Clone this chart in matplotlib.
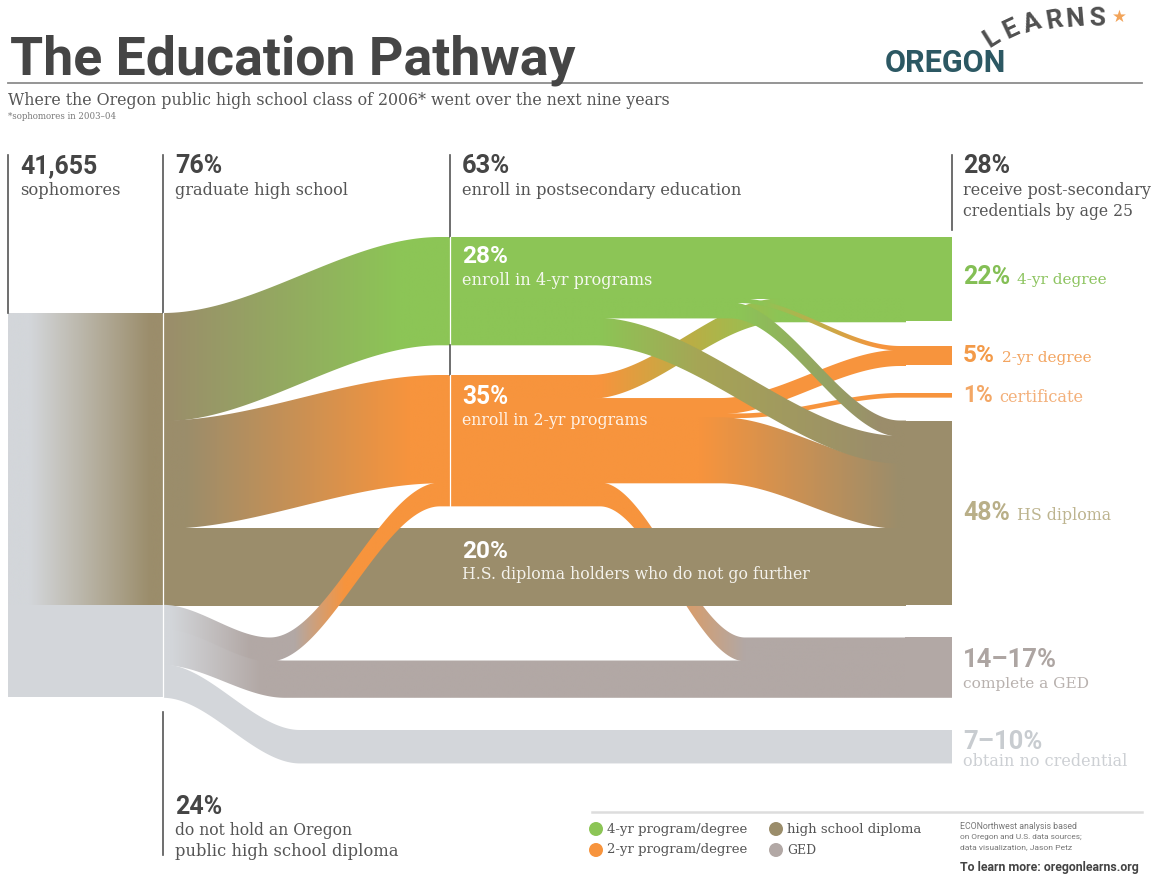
import numpy as np
import matplotlib.pyplot as plt
from matplotlib.patches import Polygon, Rectangle, Circle
from matplotlib.colors import to_rgb

# ---- data: percent of the 41,655 sophomores ----
cohort = '41,655'
grad_share = 76
nongrad_share = 24
grad_split = [28, 28, 20]          # 4-yr, 2-yr, H.S. only
nongrad_split = [6, 9.5, 8.5]      # GED then 2-yr, GED only, no credential
enroll = [28, 34]                  # middle nodes: 4-yr, 2-yr
from_4yr = [16, 1, 4, 7]           # 4-yr deg, 2-yr deg, HS diploma (two strands)
from_2yr = [6, 4, 1, 17, 6]        # 4-yr deg, 2-yr deg, certificate, HS diploma, GED
outcomes = [22, 5, 1, 48, 15.5, 8.5]
outcome_pct = ['22%', '5%', '1%', '48%', '14\u201317%', '7\u201310%']
outcome_txt = ['4-yr degree', '2-yr degree', 'certificate', 'HS diploma',
               'complete a GED', 'obtain no credential']
legend_names = ['4-yr program/degree', '2-yr program/degree', 'high school diploma', 'GED']

GREEN = '#8CC556'
ORANGE = '#F7943D'
BROWN = '#9B8D6B'
MAUVE = '#B2A8A5'
LGRAY = '#D3D6DA'
DARK = '#454545'

W, H = 1157, 875
fig = plt.figure(figsize=(W / 100, H / 100), dpi=100)
ax = fig.add_axes([0, 0, 1, 1])
ax.set_xlim(0, W)
ax.set_ylim(H, 0)
PX = 3.84            # pixels per percentage point
X0, X1, XM, XR, XE = 8, 163, 450, 905, 952
TOP_L, TOP_4, TOP_2 = 313, 237, 375


def fill(verts, stops, z):
    patch = Polygon(verts, closed=True, facecolor='none', edgecolor='none', zorder=z)
    ax.add_patch(patch)
    if isinstance(stops, str):
        patch.set_facecolor(stops)
        return
    x0, x1 = verts[:, 0].min(), verts[:, 0].max()
    y0, y1 = verts[:, 1].min(), verts[:, 1].max()
    xs = np.linspace(x0, x1, 400)
    sx = [s[0] for s in stops]
    cols = np.array([to_rgb(s[1]) for s in stops])
    img = np.stack([np.interp(xs, sx, cols[:, k]) for k in range(3)], axis=-1)[None]
    im = ax.imshow(img, extent=(x0, x1, y1, y0), aspect='auto', zorder=z,
                   interpolation='bilinear')
    im.set_clip_path(patch)


def flow(keys, v, stops, z=2):
    xs_all, ys_all = [], []
    for (xa, ya), (xb, yb) in zip(keys[:-1], keys[1:]):
        xs = np.linspace(xa, xb, 150)
        t = (xs - xa) / (xb - xa)
        xs_all.append(xs)
        ys_all.append(ya + (yb - ya) * t * t * (3 - 2 * t))
    xs = np.concatenate(xs_all)
    top = np.concatenate(ys_all)
    # small overlap so neighbouring bands show no seam
    verts = np.concatenate([np.c_[xs, top], np.c_[xs[::-1], (top + v * PX + 0.8)[::-1]]])
    fill(verts, stops, z)


# ---- left block ----
y_grad = TOP_L + grad_share * PX
y_all = y_grad + nongrad_share * PX
fill(np.array([[X0, TOP_L], [X1 + 1, TOP_L], [X1 + 1, y_grad], [X0, y_grad]]),
     [(30, LGRAY), (150, BROWN)], 2)
fill(np.array([[X0, y_grad], [X1 + 1, y_grad], [X1 + 1, y_all], [X0, y_all]]), LGRAY, 2)

# ---- graduates to the middle stage ----
y = TOP_L
flow([(X1, y), (440, TOP_4), (XM, TOP_4)], grad_split[0], [(165, BROWN), (400, GREEN)])
y += grad_split[0] * PX
flow([(X1, y), (440, TOP_2), (XM, TOP_2)], grad_split[1], [(185, BROWN), (410, ORANGE)])
y += grad_split[1] * PX
y_hs = y
flow([(X1, y_hs), (XR + 1, y_hs)], grad_split[2], BROWN, z=4)

# ---- non-graduates ----
y_2b = TOP_2 + grad_split[1] * PX            # where GED students join 2-yr node
y_ged = y_all - outcomes[4] * PX              # right GED node top
y = y_grad
flow([(X1, y), (270, y_ged), (440, y_2b), (XM, y_2b)], nongrad_split[0],
     [(170, LGRAY), (250, MAUVE), (295, MAUVE), (345, ORANGE)], z=5)
y += nongrad_split[0] * PX
y_gd = y_ged + from_2yr[4] * PX
flow([(X1, y), (285, y_gd), (XE, y_gd)], nongrad_split[1],
     [(170, LGRAY), (260, MAUVE)], z=2)
y += nongrad_split[1] * PX
flow([(X1, y), (300, 730), (XE, 730)], nongrad_split[2], LGRAY, z=2)

# ---- middle stage to outcomes ----
r_tops = [237, 346, 393, y_hs + grad_split[2] * PX - outcomes[3] * PX, y_ged, 730]
r_cols = [GREEN, ORANGE, ORANGE, BROWN, MAUVE, LGRAY]
s4 = np.cumsum([0] + from_4yr[:-1]) * PX + TOP_4
s2 = np.cumsum([0] + from_2yr[:-1]) * PX + TOP_2
t_deg4 = r_tops[0]
t_deg2 = r_tops[1]
t_hs = r_tops[3]
XR1 = XR + 1

flow([(XM, s4[0]), (XR1, s4[0])], from_4yr[0], GREEN)
flow([(XM, s2[0]), (590, s2[0]), (780, t_deg4 + from_4yr[0] * PX), (XR1, t_deg4 + from_4yr[0] * PX)],
     from_2yr[0], [(600, ORANGE), (690, '#BBAE45'), (780, GREEN)], z=3)
flow([(XM, s2[1]), (720, s2[1]), (900, t_deg2 + from_4yr[1] * PX), (XR1, t_deg2 + from_4yr[1] * PX)],
     from_2yr[1], ORANGE, z=2)
flow([(XM, s2[2]), (740, s2[2]), (900, r_tops[2]), (XE, r_tops[2])], from_2yr[2], ORANGE, z=2)
flow([(XM, s2[3]), (720, s2[3]), (900, t_hs + (from_4yr[2] + from_4yr[3]) * PX),
      (XR1, t_hs + (from_4yr[2] + from_4yr[3]) * PX)],
     from_2yr[3], [(700, ORANGE), (900, BROWN)], z=2)
flow([(XM, s2[4]), (600, s2[4]), (745, y_ged), (XE, y_ged)], from_2yr[4],
     [(640, ORANGE), (745, MAUVE)], z=1.5)
flow([(XM, s4[1]), (740, s4[1]), (900, t_deg2), (XR1, t_deg2)], from_4yr[1],
     [(760, GREEN), (880, ORANGE)], z=3)
flow([(XM, s4[2]), (730, s4[2]), (900, t_hs), (XR1, t_hs)], from_4yr[2],
     [(740, GREEN), (880, BROWN)], z=3.2)
flow([(XM, s4[3]), (595, s4[3]), (900, t_hs + from_4yr[2] * PX), (XR1, t_hs + from_4yr[2] * PX)],
     from_4yr[3], [(600, GREEN), (700, '#A6A555'), (880, BROWN)], z=3.1)

for top, v, c in zip(r_tops, outcomes, r_cols):
    ax.add_patch(Rectangle((XR, top), XE - XR, v * PX, facecolor=c, edgecolor='none', zorder=4))

# ---- separator lines ----
lk = dict(color='#555555', lw=1.2, zorder=6)
wk = dict(color='white', lw=0.9, zorder=6)
ax.plot([X0, X0], [155, TOP_L], **lk)
ax.plot([X1, X1], [155, TOP_L], **lk)
ax.plot([X1, X1], [TOP_L, y_all], **wk)
ax.plot([X1, X1], [712, 855], **lk)
ax.plot([XM, XM], [155, TOP_4], **lk)
ax.plot([XM, XM], [TOP_4, TOP_4 + enroll[0] * PX], **wk)
ax.plot([XM, XM], [TOP_4 + enroll[0] * PX, TOP_2], **lk)
ax.plot([XM, XM], [TOP_2, TOP_2 + enroll[1] * PX], **wk)
ax.plot([XE, XE], [155, 230], **lk)

# imshow may have moved the limits: put them back before measuring text
ax.set_xlim(0, W)
ax.set_ylim(H, 0)

# ---- text ----
BOLD = dict(family='Roboto', fontweight='bold')
SERIF = dict(family='DejaVu Serif')


def txt(x, y, s, w=None, size=10, **kw):
    kw.setdefault('va', 'baseline')
    t = ax.text(x, y, s, fontsize=size, zorder=10, **kw)
    if w:
        bb = t.get_window_extent(renderer=fig.canvas.get_renderer())
        t.set_fontsize(size * w / bb.width)
    return t


txt(10, 75, 'The Education Pathway', 565, 36, color=DARK, **BOLD)
ax.plot([8, 1142], [83, 83], color='#8C8C8C', lw=1.3, zorder=1)
txt(8, 105, 'Where the Oregon public high school class of 2006* went over the next nine years',
    665, 10, color='#555555', **SERIF)
txt(8, 119, '*sophomores in 2003\u201304', 110, 5, color='#777777', **SERIF)

# logo
txt(885, 72, 'OREGON', 122, 15, color='#2C5863', family='Roboto', fontweight='bold')
for ch, (lx, ly, rot) in zip('LEARNS', [(992, 38, 32), (1011, 30, 25), (1032, 24, 18),
                                         (1054, 21, 10), (1075, 19, 5), (1097, 19, 2)]):
    txt(lx, ly, ch, None, 19, color='#505050', ha='center', va='center', rotation=rot,
        family='Roboto', fontweight='bold')
txt(1119, 17, '\u2605', None, 12, color='#F2A45A', ha='center', va='center', family='DejaVu Sans')

# column headers
txt(20, 173, cohort, 77, 13, color=DARK, **BOLD)
txt(20, 195, 'sophomores', 100, 11, color='#555555', **SERIF)
txt(175, 173, f'{grad_share}%', 47, 13, color=DARK, **BOLD)
txt(175, 195, 'graduate high school', 172, 11, color='#555555', **SERIF)
txt(462, 173, f'{sum(enroll) + 1}%', 48, 13, color=DARK, **BOLD)
txt(462, 195, 'enroll in postsecondary education', 280, 11, color='#555555', **SERIF)
txt(963, 173, f'{sum(outcomes[:3])}%', 47, 13, color=DARK, **BOLD)
txt(963, 195, 'receive post-secondary', 187, 11, color='#555555', **SERIF)
txt(963, 216, 'credentials by age 25', 170, 11, color='#555555', **SERIF)

# labels inside the middle nodes
txt(462, 263, f'{enroll[0]}%', 46, 13, color='white', **BOLD)
txt(462, 285, 'enroll in 4-yr programs', 190, 11, color='#F4F8EE', **SERIF)
txt(462, 404, f'{enroll[1] + 1}%', 46, 13, color='white', **BOLD)
txt(462, 425, 'enroll in 2-yr programs', 186, 11, color='#FFF3E8', **SERIF)
txt(462, 558, f'{grad_split[2]}%', 46, 13, color='white', **BOLD)
txt(462, 579, 'H.S. diploma holders who do not go further', 348, 11, color='#F4F2EC', **SERIF)

# outcome labels
pct_cols = ['#84BF55', '#F39A48', '#F3A765', '#B9AF88', '#ADA5A2', '#C8CCD0']
txt_cols = ['#8DC460', '#F3A561', '#F3B07A', '#BDB48F', '#B8B1AE', '#CDD0D4']
pct_w = [47, 32, 30, 47, 94, 79]
txt_w = [91, 91, 85, 95, 127, 164]
ys_out = [284, 362, 402, 520, 667, 749]
for i in range(6):
    t = txt(963, ys_out[i], outcome_pct[i], pct_w[i], 13, color=pct_cols[i], **BOLD)
    if i < 4:
        x_after = t.get_window_extent(renderer=fig.canvas.get_renderer()).x1 + 7
        txt(x_after, ys_out[i], outcome_txt[i], txt_w[i], 10, color=txt_cols[i], **SERIF)
    else:
        txt(963, ys_out[i] + (21 if i == 4 else 17), outcome_txt[i], txt_w[i], 10,
            color=txt_cols[i], **SERIF)

# bottom-left note
txt(175, 814, f'{nongrad_share}%', 47, 13, color=DARK, **BOLD)
txt(175, 835, 'do not hold an Oregon', 178, 11, color='#555555', **SERIF)
txt(175, 856, 'public high school diploma', 222, 11, color='#555555', **SERIF)

# legend
ax.plot([592, 1142], [812, 812], color='#DDDDDD', lw=1.8, zorder=1)
leg_pos = [(596, 829), (596, 850), (776, 829), (776, 850)]
leg_cols = [GREEN, ORANGE, BROWN, MAUVE]
leg_w = [141, 141, 135, 29]
for (lx, ly), c, name, lw_ in zip(leg_pos, leg_cols, legend_names, leg_w):
    ax.add_patch(Circle((lx, ly), 7, facecolor=c, edgecolor='none', zorder=10))
    txt(lx + 11, ly, name, lw_, 9, color='#555555', va='center', **SERIF)

credits = ['ECONorthwest analysis based', 'on Oregon and U.S. data sources;',
           'data visualization, Jason Petz']
for i, line in enumerate(credits):
    txt(960, 829 + i * 10, line, [118, 124, 112][i], 5, color='#777777', family='Roboto')
txt(960, 871, 'To learn more: oregonlearns.org', 182, 7, color='#444444', **BOLD)

ax.set_xlim(0, W)
ax.set_ylim(H, 0)
ax.axis('off')
fig.savefig('out.png', dpi=100, facecolor='white')
